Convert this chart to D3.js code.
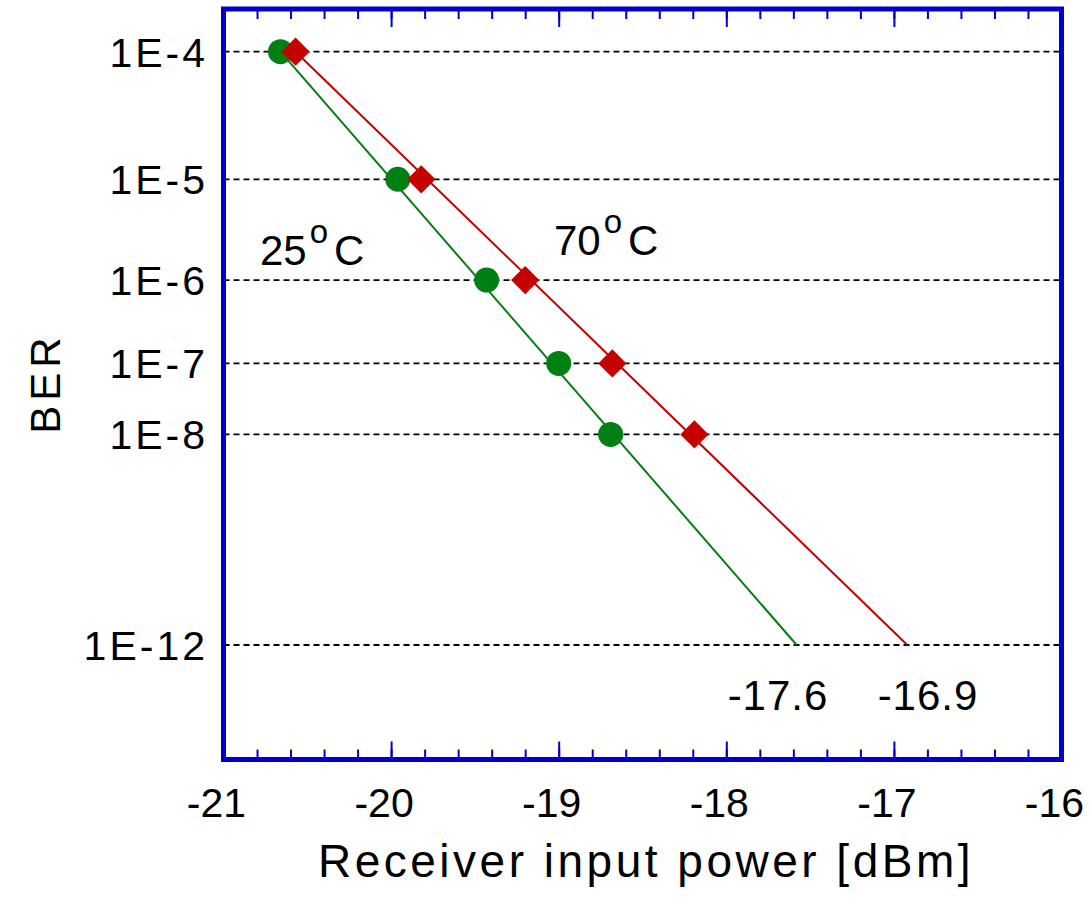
<!DOCTYPE html>
<html>
<head>
<meta charset="utf-8">
<script src="https://cdn.jsdelivr.net/npm/d3@7"></script>
<style>
    body { margin: 0; background: #fff; }
    text { font-family: Arial, "Liberation Sans", sans-serif; fill: #000; }
</style>
</head>
<body>
<svg id="chart"></svg>
<script>
// x axis ticks (dBm)
const xMajorTicks = [-21, -20, -19, -18, -17, -16];
// BER grid ticks
const berTicks = [1e-4, 1e-5, 1e-6, 1e-7, 1e-8, 1e-12];
const berTickLabels = ["1E-4", "1E-5", "1E-6", "1E-7", "1E-8", "1E-12"];

// measured points
const berMeasured = [1e-4, 1e-5, 1e-6, 1e-7, 1e-8];
const power25 = [-20.66, -19.96, -19.43, -19.00, -18.69];
const power70 = [-20.57, -19.82, -19.20, -18.68, -18.19];

// fitted lines, extrapolated to 1E-12
const fitBer = [1e-4, 1e-12];
const fitPower25 = [-20.66, -17.58];
const fitPower70 = [-20.57, -16.92];
const fitLabels = ["-17.6", "-16.9"];

const width = 1090, height = 898;
const blue = "#0000cc", green = "#008012", red = "#c40000";

const svg = d3.select("#chart")
    .attr("width", width)
    .attr("height", height);

const plot = {left: 223.5, right: 1061.5, top: 9, bottom: 759.5};

const xScale = d3.scaleLinear()
    .domain([-21, -16])
    .range([plot.left, plot.right]);

// BER axis: linear in ln(-log10(BER) - 0.7)
const berT = b => Math.log(-Math.log10(b) - 0.7);
const yScale = d3.scaleLinear()
    .domain([berT(1e-4), berT(1e-12)])
    .range([51.7, 645]);
const yBer = b => yScale(berT(b));

// dashed grid lines
svg.append("g")
    .selectAll("line")
    .data(berTicks)
    .join("line")
    .attr("x1", plot.left)
    .attr("x2", plot.right)
    .attr("y1", d => yBer(d))
    .attr("y2", d => yBer(d))
    .attr("stroke", "#000")
    .attr("stroke-width", 1.8)
    .attr("stroke-dasharray", "6,4");

// y tick labels
svg.append("g")
    .selectAll("text")
    .data(berTicks)
    .join("text")
    .attr("x", 208)
    .attr("y", d => yBer(d) + 15)
    .attr("text-anchor", "end")
    .attr("font-size", "41px")
    .attr("letter-spacing", "3px")
    .text((d, i) => berTickLabels[i]);

// x ticks, inward on bottom and top
const minorTicks = d3.range(-21, -15.99, 0.2).map(v => +v.toFixed(1));
function drawTicks(axisFn, y, values, size) {
    const g = svg.append("g")
        .attr("transform", `translate(0, ${y})`)
        .call(axisFn(xScale).tickValues(values).tickSize(size).tickFormat(""));
    g.select(".domain").remove();
    g.selectAll(".tick line").attr("stroke", blue).attr("stroke-width", 2);
}
drawTicks(d3.axisTop, plot.bottom, minorTicks, 10);
drawTicks(d3.axisTop, plot.bottom, xMajorTicks, 18);
drawTicks(d3.axisBottom, plot.top, minorTicks, 10);
drawTicks(d3.axisBottom, plot.top, xMajorTicks, 18);

// x tick labels
svg.append("g")
    .selectAll("text")
    .data(xMajorTicks)
    .join("text")
    .attr("x", d => xScale(d) - 7)
    .attr("y", 817)
    .attr("text-anchor", "middle")
    .attr("font-size", "41px")
    .text(d => d);

// fit lines
const line = d3.line()
    .x(d => xScale(d[0]))
    .y(d => yBer(d[1]));

svg.append("path")
    .datum(fitPower25.map((p, i) => [p, fitBer[i]]))
    .attr("d", line)
    .attr("fill", "none")
    .attr("stroke", green)
    .attr("stroke-width", 2);

svg.append("path")
    .datum(fitPower70.map((p, i) => [p, fitBer[i]]))
    .attr("d", line)
    .attr("fill", "none")
    .attr("stroke", red)
    .attr("stroke-width", 2);

// markers
svg.append("g")
    .selectAll("circle")
    .data(power25.map((p, i) => [p, berMeasured[i]]))
    .join("circle")
    .attr("cx", d => xScale(d[0]))
    .attr("cy", d => yBer(d[1]))
    .attr("r", 12.5)
    .attr("fill", green);

svg.append("g")
    .selectAll("path")
    .data(power70.map((p, i) => [p, berMeasured[i]]))
    .join("path")
    .attr("d", d3.symbol(d3.symbolSquare, 400))
    .attr("transform", d => `translate(${xScale(d[0])}, ${yBer(d[1])}) rotate(45)`)
    .attr("fill", red);

// extrapolated values
svg.append("g")
    .selectAll("text")
    .data(fitLabels)
    .join("text")
    .attr("x", (d, i) => [778, 928][i])
    .attr("y", 710)
    .attr("text-anchor", "middle")
    .attr("font-size", "42px")
    .attr("letter-spacing", "1px")
    .text(d => d);

// temperature labels
function tempLabel(x, y, t) {
    const txt = svg.append("text")
        .attr("x", x)
        .attr("y", y)
        .attr("font-size", "42px");
    txt.append("tspan").text(t);
    txt.append("tspan").attr("font-size", "33px").attr("dx", 3).attr("dy", -22).text("o");
    txt.append("tspan").attr("dx", 6).attr("dy", 22).text("C");
}
tempLabel(260, 265, "25");
tempLabel(554, 255, "70");

// plot frame
svg.append("rect")
    .attr("x", plot.left)
    .attr("y", plot.top)
    .attr("width", plot.right - plot.left)
    .attr("height", plot.bottom - plot.top)
    .attr("fill", "none")
    .attr("stroke", blue)
    .attr("stroke-width", 5);

// axis titles
svg.append("text")
    .attr("x", 646)
    .attr("y", 877)
    .attr("text-anchor", "middle")
    .attr("font-size", "46px")
    .attr("letter-spacing", "3.5px")
    .text("Receiver input power [dBm]");

svg.append("text")
    .attr("transform", "translate(60, 383) rotate(-90)")
    .attr("text-anchor", "middle")
    .attr("font-size", "42px")
    .attr("letter-spacing", "5px")
    .text("BER");
</script>
</body>
</html>
